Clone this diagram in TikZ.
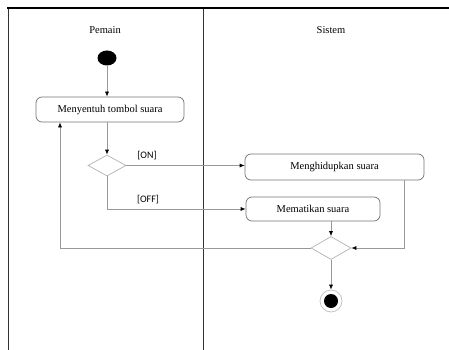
\documentclass[tikz,border=0pt]{standalone}
\usepackage{fontspec}
\setmainfont{Liberation Serif}
\newfontfamily\guardfont{Carlito}
\usetikzlibrary{arrows.meta,shapes.geometric}
\tikzset{
  act/.style={draw=black!55, line width=0.7pt, rounded corners=6pt, font=\fontsize{10.5}{12}\selectfont, inner sep=0pt},
  dia/.style={draw=black!30, line width=0.7pt, diamond, inner sep=0pt, minimum width=38pt, minimum height=21pt, aspect=1.8},
  flow/.style={draw=black!40, line width=0.7pt, -{Latex[length=5pt,width=4pt,color=black]}},
  lane/.style={draw=black!80, line width=0.8pt},
  guard/.style={font=\guardfont\fontsize{10}{12}\selectfont, inner sep=0pt},
  title/.style={font=\fontsize{10.5}{12}\selectfont, inner sep=0pt}
}
\begin{document}
\begin{tikzpicture}[x=1pt,y=-1pt]
\useasboundingbox (0,0) rectangle (449,350);
% swimlanes
\draw[lane] (8,8) -- (8,350);
\draw[lane] (203,8) -- (203,350);
\draw[draw=black, line width=2.5pt] (7,8) -- (449,8);
\node[title] (tp) at (105,30) {Pemain};
\node[title] (ts) at (331,30) {Sistem};
% nodes
\node[fill=black, ellipse, minimum width=19pt, minimum height=15pt, inner sep=0pt] (start) at (107,58) {};
\node[act, minimum width=148pt, minimum height=25pt] (a1) at (110,109.5) {Menyentuh tombol suara};
\node[dia] (d1) at (107,165.5) {};
\node[act, minimum width=179pt, minimum height=26pt] (a2) at (334.5,167) {Menghidupkan suara};
\node[act, minimum width=134pt, minimum height=24pt] (a3) at (313,209) {Mematikan suara};
\node[dia, minimum width=40pt, minimum height=23pt] (d2) at (331,248) {};
\node[circle, draw=black!25, line width=0.7pt, minimum size=22pt, inner sep=0pt] (fin) at (331,301) {};
\node[circle, fill=black, minimum size=14pt, inner sep=0pt] (finin) at (331,301) {};
\coordinate (rx) at (404,0);
\coordinate (lp) at (60,248);
% guards
\node[guard] (gon) at (147,156) {[ON]};
\node[guard] (goff) at (148,200) {[OFF]};
% connectors
\draw[flow] (start.south) -- (start.south |- a1.north);
\draw[flow] (a1.south -| d1.north) -- (d1.north);
\draw[flow] (d1.east) -- (d1.east -| a2.west);
\draw[flow] (d1.south) |- (a3.west);
\draw[flow] (d2.north |- a3.south) -- (d2.north);
\draw[flow] (a2.south -| rx) |- (d2.east);
\draw[flow] (d2.west) -- (lp) -- (lp |- a1.south);
\draw[flow] (d2.south) -- (fin.north);
\end{tikzpicture}
\end{document}
